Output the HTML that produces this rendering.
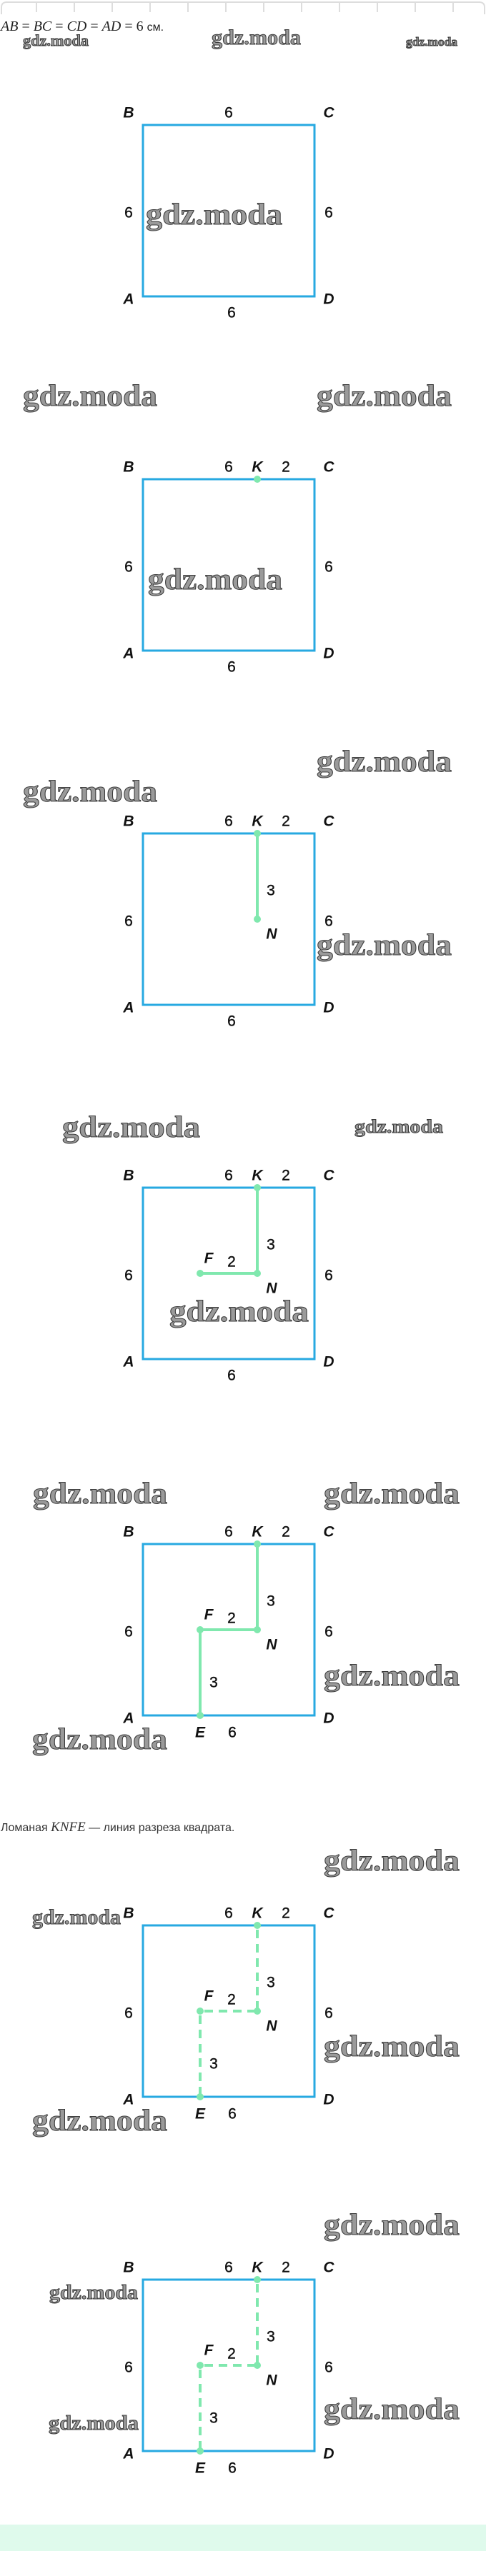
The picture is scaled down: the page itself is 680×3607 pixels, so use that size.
<!DOCTYPE html>
<html><head><meta charset="utf-8"><style>
html,body{margin:0;padding:0;background:#fff;}
svg{display:block;}
.l{font-family:"Liberation Sans",sans-serif;font-weight:bold;font-style:italic;font-size:21px;fill:#111;}
.n{font-family:"Liberation Sans",sans-serif;font-size:21px;fill:#111;stroke:#111;stroke-width:0.4;}
.w{font-family:"Liberation Serif",serif;font-weight:bold;fill:#9a9a9a;stroke:#3a3a3a;stroke-width:1;}
.sq{fill:none;stroke:#27a9e1;stroke-width:3;}
.g{stroke:#80e8ae;stroke-width:4;fill:none;}
.gd{stroke:#80e8ae;stroke-width:4;fill:none;stroke-dasharray:12 8;}
.d{fill:#80e8ae;}
</style></head><body>
<svg width="680" height="3607" viewBox="0 0 680 3607" xmlns="http://www.w3.org/2000/svg">
<!-- ruler -->
<path d="M2 20 V10 Q2 3 10 3 H670 Q678 3 678 10 V20" fill="none" stroke="#ddd" stroke-width="2"/>
<g stroke="#ddd" stroke-width="2">
<line x1="51" y1="3" x2="51" y2="17"/><line x1="104" y1="3" x2="104" y2="17"/><line x1="157" y1="3" x2="157" y2="17"/><line x1="210" y1="3" x2="210" y2="17"/><line x1="263" y1="3" x2="263" y2="17"/><line x1="316" y1="3" x2="316" y2="17"/><line x1="369" y1="3" x2="369" y2="17"/><line x1="422" y1="3" x2="422" y2="17"/><line x1="475" y1="3" x2="475" y2="17"/><line x1="528" y1="3" x2="528" y2="17"/><line x1="581" y1="3" x2="581" y2="17"/><line x1="634" y1="3" x2="634" y2="17"/>
</g>
<text x="1" y="43" font-family="Liberation Serif,serif" font-size="20" fill="#222"><tspan font-style="italic">AB</tspan> = <tspan font-style="italic">BC</tspan> = <tspan font-style="italic">CD</tspan> = <tspan font-style="italic">AD</tspan> = 6 <tspan font-family="Liberation Sans,sans-serif" font-size="16">см.</tspan></text>

<!-- watermarks -->
<text class="w" x="32" y="64" font-size="22" textLength="92" lengthAdjust="spacingAndGlyphs">gdz.moda</text>
<text class="w" x="296" y="62" font-size="30" textLength="125" lengthAdjust="spacingAndGlyphs">gdz.moda</text>
<text class="w" x="568" y="64" font-size="17" textLength="72" lengthAdjust="spacingAndGlyphs">gdz.moda</text>
<text class="w" x="204" y="314" font-size="42" textLength="191" lengthAdjust="spacingAndGlyphs">gdz.moda</text>
<text class="w" x="32" y="568" font-size="42" textLength="188" lengthAdjust="spacingAndGlyphs">gdz.moda</text>
<text class="w" x="443" y="568" font-size="42" textLength="189" lengthAdjust="spacingAndGlyphs">gdz.moda</text>
<text class="w" x="207" y="825" font-size="42" textLength="188" lengthAdjust="spacingAndGlyphs">gdz.moda</text>
<text class="w" x="443" y="1080" font-size="42" textLength="189" lengthAdjust="spacingAndGlyphs">gdz.moda</text>
<text class="w" x="32" y="1122" font-size="42" textLength="188" lengthAdjust="spacingAndGlyphs">gdz.moda</text>
<text class="w" x="443" y="1337" font-size="42" textLength="189" lengthAdjust="spacingAndGlyphs">gdz.moda</text>
<text class="w" x="87" y="1592" font-size="42" textLength="193" lengthAdjust="spacingAndGlyphs">gdz.moda</text>
<text class="w" x="496" y="1586" font-size="26" textLength="124" lengthAdjust="spacingAndGlyphs">gdz.moda</text>
<text class="w" x="237" y="1850" font-size="42" textLength="195" lengthAdjust="spacingAndGlyphs">gdz.moda</text>
<text class="w" x="46" y="2105" font-size="42" textLength="188" lengthAdjust="spacingAndGlyphs">gdz.moda</text>
<text class="w" x="453" y="2105" font-size="42" textLength="190" lengthAdjust="spacingAndGlyphs">gdz.moda</text>
<text class="w" x="453" y="2360" font-size="42" textLength="190" lengthAdjust="spacingAndGlyphs">gdz.moda</text>
<text class="w" x="45" y="2449" font-size="42" textLength="189" lengthAdjust="spacingAndGlyphs">gdz.moda</text>
<text class="w" x="453" y="2619" font-size="42" textLength="190" lengthAdjust="spacingAndGlyphs">gdz.moda</text>
<text class="w" x="45" y="2694" font-size="30" textLength="124" lengthAdjust="spacingAndGlyphs">gdz.moda</text>
<text class="w" x="453" y="2879" font-size="42" textLength="190" lengthAdjust="spacingAndGlyphs">gdz.moda</text>
<text class="w" x="45" y="2983" font-size="42" textLength="189" lengthAdjust="spacingAndGlyphs">gdz.moda</text>
<text class="w" x="453" y="3129" font-size="42" textLength="190" lengthAdjust="spacingAndGlyphs">gdz.moda</text>
<text class="w" x="69" y="3219" font-size="28" textLength="124" lengthAdjust="spacingAndGlyphs">gdz.moda</text>
<text class="w" x="68" y="3402" font-size="28" textLength="126" lengthAdjust="spacingAndGlyphs">gdz.moda</text>
<text class="w" x="453" y="3387" font-size="42" textLength="190" lengthAdjust="spacingAndGlyphs">gdz.moda</text>

<text x="1" y="2564" font-family="Liberation Sans,sans-serif" font-size="16" fill="#333">Ломаная <tspan font-family="Liberation Serif,serif" font-style="italic" font-size="19">KNFE</tspan> — линия разреза квадрата.</text>

<!-- Square 1 -->
<g transform="translate(0,175)" text-anchor="middle" dominant-baseline="central">
<rect class="sq" x="200" y="0" width="240" height="240"/>
<text class="l" x="180" y="-17">B</text><text class="l" x="460" y="-17">C</text>
<text class="l" x="180" y="244">A</text><text class="l" x="460" y="244">D</text>
<text class="n" x="320" y="-17">6</text><text class="n" x="180" y="123">6</text><text class="n" x="460" y="123">6</text><text class="n" x="324" y="263">6</text>
</g>
<!-- Square 2 -->
<g transform="translate(0,671)" text-anchor="middle" dominant-baseline="central">
<rect class="sq" x="200" y="0" width="240" height="240"/>
<text class="l" x="180" y="-17">B</text><text class="l" x="460" y="-17">C</text>
<text class="l" x="180" y="244">A</text><text class="l" x="460" y="244">D</text>
<text class="n" x="320" y="-17">6</text><text class="l" x="360" y="-17">K</text><text class="n" x="400" y="-17">2</text>
<text class="n" x="180" y="123">6</text><text class="n" x="460" y="123">6</text><text class="n" x="324" y="263">6</text>
<circle class="d" cx="360" cy="0" r="5"/>
</g>
<!-- Square 3 -->
<g transform="translate(0,1167)" text-anchor="middle" dominant-baseline="central">
<rect class="sq" x="200" y="0" width="240" height="240"/>
<line class="g" x1="360" y1="0" x2="360" y2="120"/>
<circle class="d" cx="360" cy="0" r="5"/><circle class="d" cx="360" cy="120" r="5"/>
<text class="l" x="180" y="-17">B</text><text class="l" x="460" y="-17">C</text>
<text class="l" x="180" y="244">A</text><text class="l" x="460" y="244">D</text>
<text class="n" x="320" y="-17">6</text><text class="l" x="360" y="-17">K</text><text class="n" x="400" y="-17">2</text>
<text class="n" x="180" y="123">6</text><text class="n" x="460" y="123">6</text><text class="n" x="324" y="263">6</text>
<text class="n" x="379" y="80">3</text><text class="l" x="380" y="141">N</text>
</g>
<!-- Square 4 -->
<g transform="translate(0,1663)" text-anchor="middle" dominant-baseline="central">
<rect class="sq" x="200" y="0" width="240" height="240"/>
<line class="g" x1="360" y1="0" x2="360" y2="120"/><line class="g" x1="280" y1="120" x2="360" y2="120"/>
<circle class="d" cx="360" cy="0" r="5"/><circle class="d" cx="360" cy="120" r="5"/><circle class="d" cx="280" cy="120" r="5"/>
<text class="l" x="180" y="-17">B</text><text class="l" x="460" y="-17">C</text>
<text class="l" x="180" y="244">A</text><text class="l" x="460" y="244">D</text>
<text class="n" x="320" y="-17">6</text><text class="l" x="360" y="-17">K</text><text class="n" x="400" y="-17">2</text>
<text class="n" x="180" y="123">6</text><text class="n" x="460" y="123">6</text><text class="n" x="324" y="263">6</text>
<text class="n" x="379" y="80">3</text><text class="l" x="380" y="141">N</text>
<text class="l" x="292" y="99">F</text><text class="n" x="324" y="104">2</text>
</g>
<!-- Square 5 -->
<g transform="translate(0,2162)" text-anchor="middle" dominant-baseline="central">
<rect class="sq" x="200" y="0" width="240" height="240"/>
<polyline class="g" points="360,0 360,120 280,120 280,240"/>
<circle class="d" cx="360" cy="0" r="5"/><circle class="d" cx="360" cy="120" r="5"/><circle class="d" cx="280" cy="120" r="5"/><circle class="d" cx="280" cy="240" r="5"/>
<text class="l" x="180" y="-17">B</text><text class="l" x="460" y="-17">C</text>
<text class="l" x="180" y="244">A</text><text class="l" x="460" y="244">D</text>
<text class="n" x="320" y="-17">6</text><text class="l" x="360" y="-17">K</text><text class="n" x="400" y="-17">2</text>
<text class="n" x="180" y="123">6</text><text class="n" x="460" y="123">6</text>
<text class="n" x="379" y="80">3</text><text class="l" x="380" y="141">N</text>
<text class="l" x="292" y="99">F</text><text class="n" x="324" y="104">2</text>
<text class="n" x="299" y="194">3</text><text class="l" x="280" y="264">E</text><text class="n" x="325" y="264">6</text>
</g>
<!-- Square 6 -->
<g transform="translate(0,2696)" text-anchor="middle" dominant-baseline="central">
<rect class="sq" x="200" y="0" width="240" height="240"/>
<line class="gd" x1="360" y1="6" x2="360" y2="120"/><line class="gd" x1="286" y1="120" x2="360" y2="120"/><line class="gd" x1="280" y1="126" x2="280" y2="240"/>
<circle class="d" cx="360" cy="0" r="5"/><circle class="d" cx="360" cy="120" r="5"/><circle class="d" cx="280" cy="120" r="5"/><circle class="d" cx="280" cy="240" r="5"/>
<text class="l" x="180" y="-17">B</text><text class="l" x="460" y="-17">C</text>
<text class="l" x="180" y="244">A</text><text class="l" x="460" y="244">D</text>
<text class="n" x="320" y="-17">6</text><text class="l" x="360" y="-17">K</text><text class="n" x="400" y="-17">2</text>
<text class="n" x="180" y="123">6</text><text class="n" x="460" y="123">6</text>
<text class="n" x="379" y="80">3</text><text class="l" x="380" y="141">N</text>
<text class="l" x="292" y="99">F</text><text class="n" x="324" y="104">2</text>
<text class="n" x="299" y="194">3</text><text class="l" x="280" y="264">E</text><text class="n" x="325" y="264">6</text>
</g>
<!-- Square 7 -->
<g transform="translate(0,3192)" text-anchor="middle" dominant-baseline="central">
<rect class="sq" x="200" y="0" width="240" height="240"/>
<line class="gd" x1="360" y1="6" x2="360" y2="120"/><line class="gd" x1="286" y1="120" x2="360" y2="120"/><line class="gd" x1="280" y1="126" x2="280" y2="240"/>
<circle class="d" cx="360" cy="0" r="5"/><circle class="d" cx="360" cy="120" r="5"/><circle class="d" cx="280" cy="120" r="5"/><circle class="d" cx="280" cy="240" r="5"/>
<text class="l" x="180" y="-17">B</text><text class="l" x="460" y="-17">C</text>
<text class="l" x="180" y="244">A</text><text class="l" x="460" y="244">D</text>
<text class="n" x="320" y="-17">6</text><text class="l" x="360" y="-17">K</text><text class="n" x="400" y="-17">2</text>
<text class="n" x="180" y="123">6</text><text class="n" x="460" y="123">6</text>
<text class="n" x="379" y="80">3</text><text class="l" x="380" y="141">N</text>
<text class="l" x="292" y="99">F</text><text class="n" x="324" y="104">2</text>
<text class="n" x="299" y="194">3</text><text class="l" x="280" y="264">E</text><text class="n" x="325" y="264">6</text>
</g>

<rect x="0" y="3535" width="680" height="37" fill="#dffaec"/>
</svg>
</body></html>
